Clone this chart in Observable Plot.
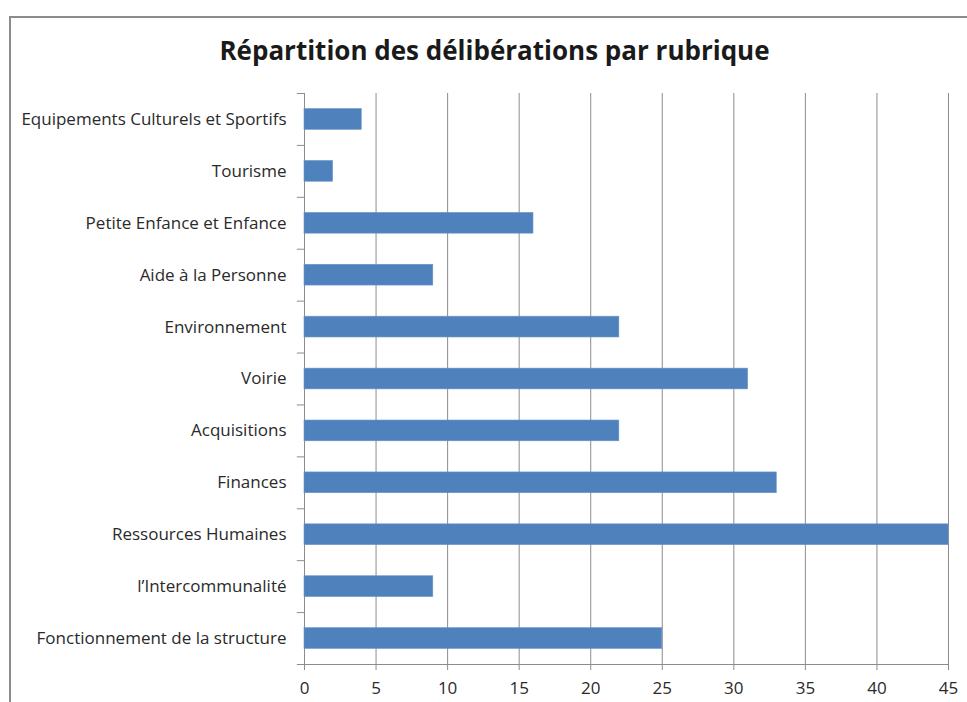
<!DOCTYPE html>
<html>
<head>
<meta charset="utf-8">
<script src="https://cdn.jsdelivr.net/npm/d3@7"></script>
<script src="https://cdn.jsdelivr.net/npm/@observablehq/plot@0.6"></script>
<style>
  html, body { margin: 0; padding: 0; background: #fff; overflow: hidden; }
  #frame { position: absolute; left: 9px; top: 16px; width: 1000px; height: 720px; border: 2px solid #8c8c8c; box-sizing: border-box; z-index: 10; pointer-events: none; background: transparent; }
  #title { position: relative; height: 70px; width: 967px; box-sizing: border-box; padding-left: 22px; padding-top: 32px;
           text-align: center; font-family: "Open Sans", sans-serif; font-weight: bold; font-size: 26px; color: #1a1a1a; line-height: 36px; }
  #chart { position: relative; }
</style>
</head>
<body>
<div id="frame"></div>
<div id="title">Répartition des délibérations par rubrique</div>
<div id="chart"></div>
<script>
const categories = [
  "Equipements Culturels et Sportifs",
  "Tourisme",
  "Petite Enfance et Enfance",
  "Aide à la Personne",
  "Environnement",
  "Voirie",
  "Acquisitions",
  "Finances",
  "Ressources Humaines",
  "l’Intercommunalité",
  "Fonctionnement de la structure"
];
const values = [4, 2, 16, 9, 22, 31, 22, 33, 45, 9, 25];
const xTicks = [0, 5, 10, 15, 20, 25, 30, 35, 40, 45];

const data = categories.map((c, i) => ({category: c, index: i, value: values[i]}));
const boundaries = d3.range(categories.length + 1).map(i => i - 0.5);
const grid = xTicks.filter(t => t > 0);
const n = categories.length;

const chart = Plot.plot({
  width: 967,
  height: 632,
  marginLeft: 304,
  marginRight: 19,
  marginTop: 23,
  marginBottom: 38,
  style: {fontFamily: "'Open Sans', sans-serif", fontSize: "16px", color: "#2a2a2a", background: "white"},
  x: {domain: [0, 45], ticks: xTicks, label: null},
  y: {domain: [n - 0.5, -0.5], label: null},
  marks: [
    Plot.ruleX(grid, {x: d => d, y1: -0.5, y2: n - 0.5, stroke: "#8c8c8c", strokeWidth: 1}),
    Plot.ruleX([0], {y1: -0.5, y2: n - 0.5, stroke: "#8c8c8c", strokeWidth: 1}),
    Plot.ruleY([n - 0.5], {x1: 0, x2: 45, stroke: "#8c8c8c", strokeWidth: 1}),
    Plot.ruleY(boundaries, {y: d => d, x1: -0.5, x2: 0, stroke: "#8c8c8c", strokeWidth: 1}),
    Plot.rectX(data, {x1: 0, x2: "value", y1: d => d.index - 0.2, y2: d => d.index + 0.2, fill: "#4f81bd", stroke: "#6a95c9", strokeWidth: 0.6}),
    Plot.axisX({ticks: xTicks, tickSize: 6, tickPadding: 11, stroke: "#8c8c8c", fontSize: "17px", label: null, tickFormat: d => String(d)}),
    Plot.axisY({ticks: d3.range(n), tickSize: 0, tickPadding: 18, tickFormat: i => categories[i], fontSize: "17px", label: null})
  ]
});
document.getElementById("chart").appendChild(chart);
</script>
</body>
</html>
